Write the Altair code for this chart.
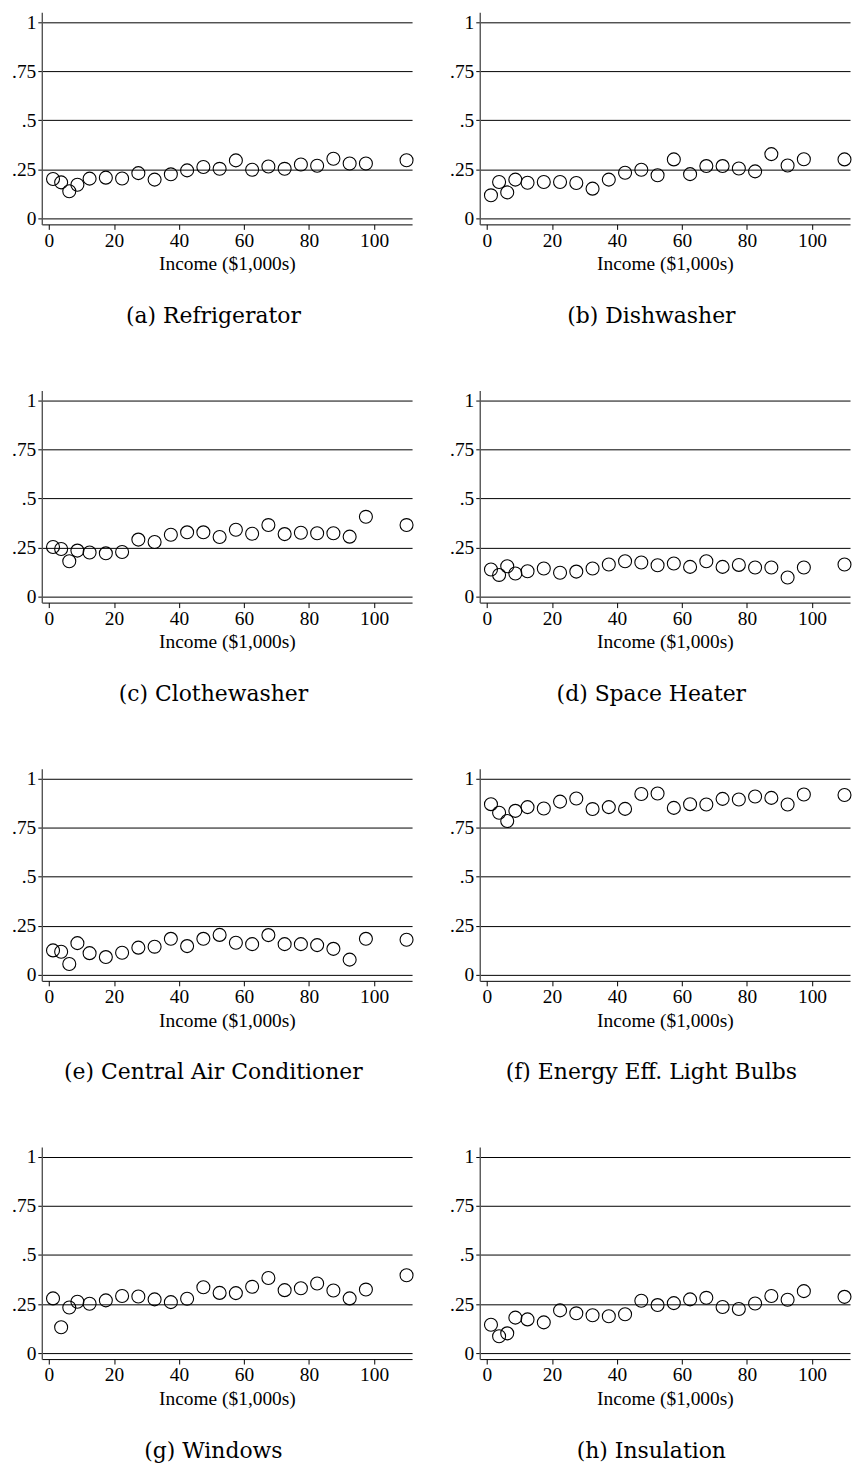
import altair as alt
import pandas as pd

income = [1.25, 3.75, 6.25, 8.75, 12.5, 17.5, 22.5, 27.5, 32.5, 37.5, 42.5,
          47.5, 52.5, 57.5, 62.5, 67.5, 72.5, 77.5, 82.5, 87.5, 92.5, 97.5, 110]

refrigerator = [0.201, 0.184, 0.139, 0.172, 0.203, 0.208, 0.204, 0.231, 0.198, 0.225, 0.245,
                0.262, 0.253, 0.296, 0.248, 0.265, 0.253, 0.275, 0.269, 0.304, 0.280, 0.280, 0.297]
dishwasher = [0.118, 0.186, 0.133, 0.198, 0.182, 0.186, 0.186, 0.181, 0.152, 0.198, 0.233,
              0.248, 0.220, 0.301, 0.226, 0.267, 0.267, 0.255, 0.240, 0.328, 0.270, 0.302, 0.301]
clothewasher = [0.253, 0.243, 0.181, 0.235, 0.225, 0.221, 0.228, 0.291, 0.279, 0.316, 0.328,
                0.328, 0.304, 0.341, 0.321, 0.365, 0.319, 0.326, 0.323, 0.323, 0.306, 0.407, 0.365]
space_heater = [0.139, 0.111, 0.155, 0.118, 0.130, 0.144, 0.122, 0.128, 0.144, 0.164, 0.181,
                0.174, 0.160, 0.169, 0.152, 0.181, 0.152, 0.162, 0.149, 0.149, 0.098, 0.149, 0.164]
central_ac = [0.125, 0.118, 0.056, 0.162, 0.111, 0.091, 0.113, 0.139, 0.144, 0.184, 0.147,
              0.184, 0.204, 0.164, 0.157, 0.203, 0.157, 0.157, 0.152, 0.133, 0.078, 0.184, 0.179]
light_bulbs = [0.870, 0.826, 0.784, 0.836, 0.855, 0.848, 0.883, 0.899, 0.845, 0.855, 0.846,
               0.922, 0.924, 0.851, 0.870, 0.868, 0.897, 0.894, 0.909, 0.902, 0.868, 0.919, 0.917]
windows = [0.279, 0.132, 0.233, 0.262, 0.252, 0.269, 0.291, 0.289, 0.274, 0.260, 0.277,
           0.336, 0.307, 0.306, 0.338, 0.383, 0.321, 0.331, 0.355, 0.319, 0.279, 0.324, 0.397]
insulation = [0.145, 0.086, 0.101, 0.181, 0.172, 0.157, 0.218, 0.203, 0.193, 0.188, 0.198,
              0.267, 0.245, 0.255, 0.274, 0.282, 0.235, 0.225, 0.253, 0.291, 0.272, 0.316, 0.287]

captions = ["(a) Refrigerator", "(b) Dishwasher", "(c) Clothewasher", "(d) Space Heater",
            "(e) Central Air Conditioner", "(f) Energy Eff. Light Bulbs", "(g) Windows",
            "(h) Insulation"]
series = [refrigerator, dishwasher, clothewasher, space_heater,
          central_ac, light_bulbs, windows, insulation]

x_ticks = [0, 20, 40, 60, 80, 100]
y_ticks = [0, 0.25, 0.5, 0.75, 1]

SERIF = "Liberation Serif"


def panel(caption, values):
    df = pd.DataFrame({"income": income, "share": values})
    return (
        alt.Chart(
            df,
            title=alt.TitleParams(
                caption, orient="bottom", anchor="middle", frame="bounds",
                font="DejaVu Serif", fontSize=22, fontWeight="normal",
                color="black", offset=33,
            ),
        )
        .mark_point(shape="circle", filled=False, size=170, color="black",
                    strokeWidth=1.1, opacity=1)
        .encode(
            x=alt.X("income:Q",
                    scale=alt.Scale(domain=[-2.2, 111.7], nice=False, zero=False),
                    axis=alt.Axis(values=x_ticks, title="Income ($1,000s)", grid=False,
                                  tickSize=5, labelPadding=2, titlePadding=5,
                                  domainColor="black", tickColor="black",
                                  labelFont=SERIF, labelFontSize=19.5, labelColor="black",
                                  titleFont=SERIF, titleFontSize=19.5, titleFontWeight="normal",
                                  titleColor="black")),
            y=alt.Y("share:Q",
                    scale=alt.Scale(domain=[-0.03, 1.05], nice=False, zero=False),
                    axis=alt.Axis(values=y_ticks, title=None, grid=True,
                                  gridColor="black", gridWidth=1, gridOpacity=1,
                                  labelExpr="datum.value == 0 ? '0' : datum.value == 1 ? '1' : replace(format(datum.value, '.2~f'), '0.', '.')",
                                  tickSize=4, labelPadding=2,
                                  domainColor="#555555", domainWidth=1.4, tickColor="black",
                                  labelFont=SERIF, labelFontSize=19.5, labelColor="black")),
        )
        .properties(width=372, height=213)
    )


charts = [panel(c, s) for c, s in zip(captions, series)]
rows = [alt.hconcat(charts[i], charts[i + 1], spacing=33) for i in range(0, 8, 2)]
chart = (
    alt.vconcat(*rows, spacing=63)
    .properties(padding={"left": 11, "top": 8, "right": 0, "bottom": 0}, background="white")
    .configure_view(stroke=None)
)

chart.save("out.html", embed_options={"renderer": "svg", "actions": False})
